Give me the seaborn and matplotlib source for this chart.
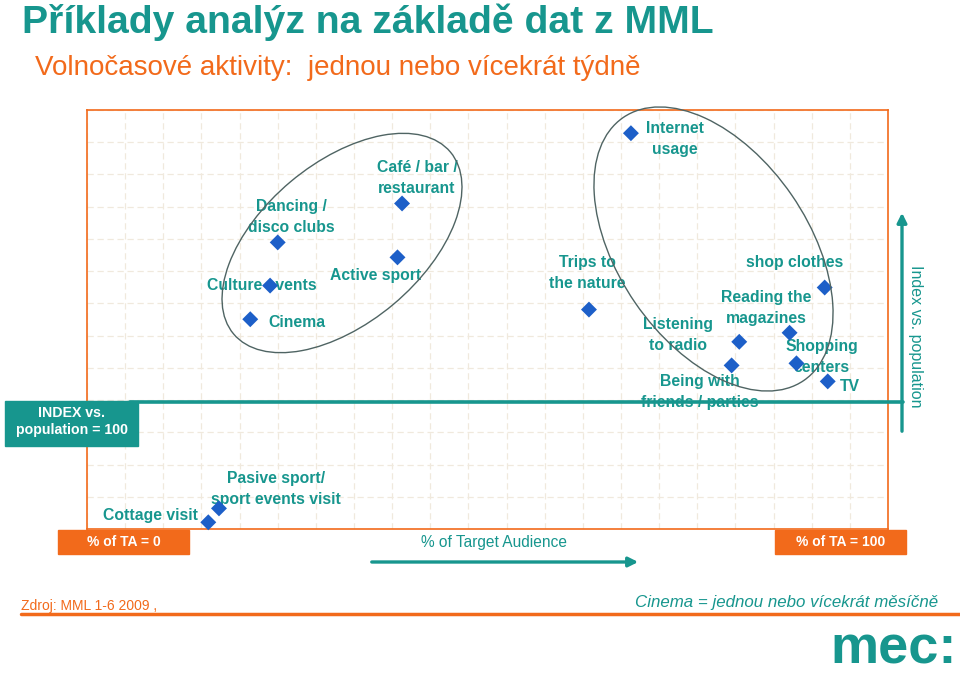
import numpy as np
import pandas as pd
import matplotlib
matplotlib.use("Agg")
import matplotlib.pyplot as plt
import seaborn as sns
from matplotlib.patches import Ellipse, Rectangle, FancyArrowPatch
from matplotlib.lines import Line2D

# activities (one or more times a week), % of target audience vs index
activities = ["Café / bar /\nrestaurant", "Dancing /\ndisco clubs", "Active sport",
              "Culture events", "Cinema", "Internet\nusage", "Trips to\nthe nature",
              "shop clothes", "Reading the\nmagazines", "Listening\nto radio",
              "Being with\nfriends / parties", "Shopping\ncenters", "TV",
              "Pasive sport/\nsport events visit", "Cottage visit"]
pct_ta = [41.3, 25.0, 40.7, 24.0, 21.4, 71.3, 65.8, 96.7, 92.1, 85.5, 84.5, 93.0, 97.1, 17.3, 15.9]
index_vs_pop = [252.5, 222.3, 210.7, 188.8, 162.7, 307.0, 170.2, 187.3, 152.2, 145.2,
                126.9, 128.5, 114.5, 16.0, 5.2]

# label offsets from the marker, in pixels (right, down)
label_off = [(15, -25), (14, -25), (-22, 18), (-8, 0), (47, 3), (44, 6), (-2, -37),
             (-30, -25), (-23, -25), (-61, -7), (-32, 27), (25, -6), (22, 5), (57, -19), (-58, -7)]

TEAL = "#17968e"
ORANGE = "#f26a1b"
BLUE = "#1d5fc8"

sns.set_theme(style="white")
plt.rcParams["font.family"] = ["Liberation Sans", "DejaVu Sans"]

W, H = 960, 676
fig = plt.figure(figsize=(9.6, 6.76), dpi=100)


def fx(x):
    return x / W


def fy(y):
    return 1 - y / H


ax = fig.add_axes([fx(87), fy(529), (888 - 87) / W, (529 - 110) / H])
df = pd.DataFrame({"activity": activities, "pct_ta": pct_ta, "index": index_vs_pop})
sns.scatterplot(data=df, x="pct_ta", y="index", marker="D", s=66, color=BLUE,
                edgecolor="none", ax=ax, zorder=5, clip_on=False)
ax.set_xlim(0, 105)
ax.set_ylim(0, 325)
ax.set_xticks(np.arange(0, 106, 5))
ax.set_yticks(np.arange(0, 326, 25))
ax.tick_params(length=0, labelbottom=False, labelleft=False)
ax.grid(True, color="#f0e9dd", ls=(0, (5, 3)), lw=0.9)
ax.set_xlabel("")
ax.set_ylabel("")
for sp in ax.spines.values():
    sp.set_color(ORANGE)
    sp.set_linewidth(1.2)

for name, x, y, (dx, dy) in zip(activities, pct_ta, index_vs_pop, label_off):
    ax.annotate(name, (x, y), xytext=(dx, -dy), textcoords="offset pixels",
                ha="center", va="center", color=TEAL, fontsize=11.3,
                fontweight="bold", linespacing=1.5, zorder=4, annotation_clip=False)

# groups
fig.add_artist(Ellipse((3.42, 4.33), 2.83, 1.60, angle=40, transform=fig.dpi_scale_trans,
                       fill=False, ec="#4f6463", lw=1, zorder=6))
fig.add_artist(Ellipse((7.135, 4.27), 3.19, 1.90, angle=-55.5, transform=fig.dpi_scale_trans,
                       fill=False, ec="#4f6463", lw=1, zorder=6))

# index = 100 line and axis arrows
fig.add_artist(Line2D([fx(130), fx(903)], [fy(402), fy(402)], color=TEAL, lw=2.6, zorder=7))
fig.add_artist(FancyArrowPatch((fx(902), fy(434)), (fx(902), fy(210)), transform=fig.transFigure,
                               arrowstyle="-|>", mutation_scale=14, color=TEAL, lw=2.4, zorder=7))
fig.add_artist(FancyArrowPatch((fx(369), fy(562)), (fx(641), fy(562)), transform=fig.transFigure,
                               arrowstyle="-|>", mutation_scale=14, color=TEAL, lw=2.4, zorder=7))
fig.text(fx(915), fy(336), "Index vs. population", rotation=270, ha="center", va="center",
         color=TEAL, fontsize=11.5)
fig.text(fx(494), fy(543), "% of Target Audience", ha="center", va="center",
         color=TEAL, fontsize=11.2)

# boxes
fig.add_artist(Rectangle((fx(5), fy(446)), 133 / W, 45 / H, color=TEAL, zorder=8))
fig.text(fx(71.5), fy(421.5), "INDEX vs.\npopulation = 100", ha="center", va="center",
         color="white", fontsize=10.2, fontweight="bold", linespacing=1.3, zorder=9)
for x0, txt in [(58, "% of TA = 0"), (775, "% of TA = 100")]:
    fig.add_artist(Rectangle((fx(x0), fy(554)), 131 / W, 24 / H, color=ORANGE, zorder=8))
    fig.text(fx(x0 + 65.5), fy(542), txt, ha="center", va="center", color="white",
             fontsize=10, fontweight="bold", zorder=9)

# titles
fig.text(fx(22), fy(33), "Příklady analýz na základě dat z MML", ha="left", va="baseline",
         color=TEAL, fontsize=28.2, fontweight="bold")
fig.text(fx(35), fy(75), "Volnočasové aktivity:  jednou nebo vícekrát týdně", ha="left",
         va="baseline", color=ORANGE, fontsize=20)

# footer
fig.text(fx(21), fy(606), "Zdroj: MML 1-6 2009 ,", ha="left", va="center", color=ORANGE,
         fontsize=10)
fig.text(fx(938), fy(603), "Cinema = jednou nebo vícekrát měsíčně", ha="right", va="center",
         color=TEAL, fontsize=12.2, style="italic")
fig.add_artist(Line2D([fx(21), fx(960)], [fy(614), fy(614)], color=ORANGE, lw=2.5))
fig.text(fx(957), fy(675), "mec:", ha="right", va="bottom", color=TEAL,
         fontsize=39, fontweight="bold")

fig.savefig("out.png", dpi=100, facecolor="white")
